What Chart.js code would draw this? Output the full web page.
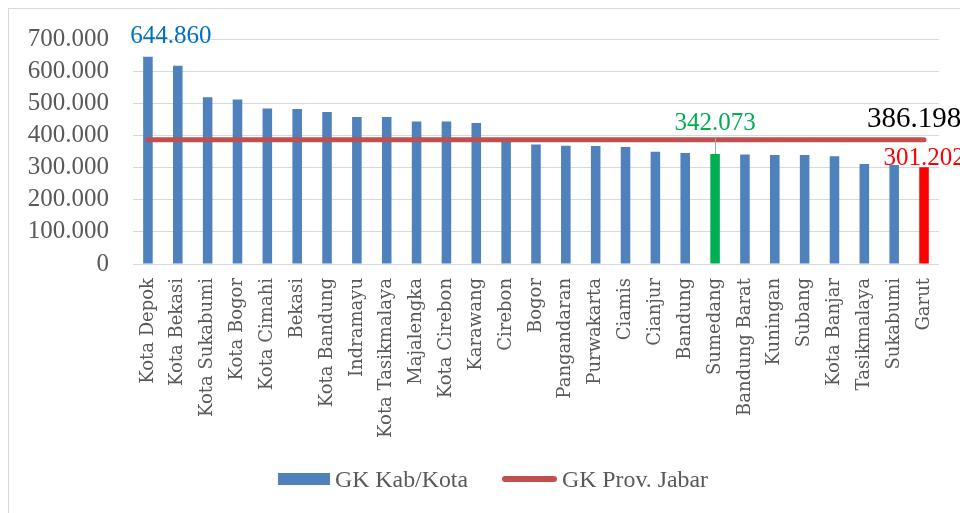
<!DOCTYPE html>
<html><head><meta charset="utf-8">
<script src="https://cdn.jsdelivr.net/npm/chart.js@4/dist/chart.umd.min.js"></script>
<style>
html,body{margin:0;padding:0;background:#fff;overflow:hidden}
#wrap{position:relative;width:960px;height:513px}
#frame{position:absolute;left:8px;top:8px;width:1000px;height:600px;border:1px solid #d9d9d9;box-sizing:border-box;pointer-events:none}
canvas{position:absolute;left:0;top:0}
</style></head><body>
<div id="wrap"><div id="frame"></div><canvas id="c" width="960" height="513"></canvas></div>
<script>
const categories = ['Kota Depok','Kota Bekasi','Kota Sukabumi','Kota Bogor','Kota Cimahi','Bekasi','Kota Bandung','Indramayu','Kota Tasikmalaya','Majalengka','Kota Cirebon','Karawang','Cirebon','Bogor','Pangandaran','Purwakarta','Ciamis','Cianjur','Bandung','Sumedang','Bandung Barat','Kuningan','Subang','Kota Banjar','Tasikmalaya','Sukabumi','Garut'];
const kabKotaValues = [644860,617000,519000,512000,484000,482000,473000,457000,457000,443000,443000,439000,384000,372000,368000,367000,364000,349000,345000,342073,341000,339000,339000,335000,311000,308000,301202];
const provValue = 386198;
const yTicks = [0,100000,200000,300000,400000,500000,600000,700000];
const seriesNames = ['GK Kab/Kota','GK Prov. Jabar'];
const labelTop = 'Kota Depok';
const labelGreen = 'Sumedang';
const labelRed = 'Garut';

const fmt = v => String(v).replace(/\B(?=(\d{3})+(?!\d))/g,'.');
const BLUE='#4F81BD', GREEN='#00B050', RED='#FF0000', LINE='#C0504D';
const barColors = categories.map(c => c===labelGreen ? GREEN : (c===labelRed ? RED : BLUE));
const NUMFONT = "'Liberation Serif', serif";

const labelsPlugin = {
  id:'valueLabels',
  afterDatasetsDraw(chart){
    const ctx = chart.ctx;
    const bars = chart.getDatasetMeta(0).data;
    const pts = chart.getDatasetMeta(1).data;
    ctx.save();
    ctx.textBaseline='alphabetic';
    let i = categories.indexOf(labelTop), b = bars[i];
    ctx.font = "25px "+NUMFONT; ctx.fillStyle='#0070C0'; ctx.textAlign='center';
    ctx.fillText(fmt(kabKotaValues[i]), b.x+23, b.y-14);
    i = categories.indexOf(labelGreen); b = bars[i];
    ctx.strokeStyle='#A6A6A6'; ctx.lineWidth=1;
    ctx.beginPath(); ctx.moveTo(Math.round(b.x)+0.5, b.y-16); ctx.lineTo(Math.round(b.x)+0.5, b.y); ctx.stroke();
    ctx.fillStyle=GREEN; ctx.textAlign='center';
    ctx.fillText(fmt(kabKotaValues[i]), b.x, b.y-24);
    i = categories.indexOf(labelRed); b = bars[i];
    ctx.fillStyle=RED; ctx.textAlign='center';
    ctx.fillText(fmt(kabKotaValues[i]), b.x, b.y-2);
    const p = pts[pts.length-1];
    ctx.font = "29px "+NUMFONT; ctx.fillStyle='#000'; ctx.textAlign='left';
    ctx.fillText(fmt(provValue), p.x-57, p.y-13);
    ctx.restore();
  }
};

function fitText(ctx, text, x, y, w){
  const sx = w / ctx.measureText(text).width;
  ctx.save(); ctx.translate(x, y); ctx.scale(sx, 1); ctx.fillText(text, 0, 0); ctx.restore();
}

const legendPlugin = {
  id:'customLegend',
  afterDraw(chart){
    const ctx = chart.ctx;
    const ds = chart.data.datasets;
    const cy = 479;
    ctx.save();
    ctx.font = "23px 'Liberation Serif', serif";
    ctx.textBaseline='alphabetic'; ctx.textAlign='left';
    ctx.fillStyle = BLUE; ctx.fillRect(278, 473, 52, 12);
    ctx.fillStyle = '#595959';
    fitText(ctx, ds[0].label, 335, 487, 133);
    ctx.strokeStyle = ds[1].borderColor; ctx.lineWidth = 6; ctx.lineCap='round';
    ctx.beginPath(); ctx.moveTo(505, cy); ctx.lineTo(554, cy); ctx.stroke();
    fitText(ctx, ds[1].label, 562, 487, 146);
    ctx.restore();
  }
};

new Chart(document.getElementById('c'), {
  type:'bar',
  data:{
    labels:categories,
    datasets:[
      {type:'bar', label:seriesNames[0], data:kabKotaValues, backgroundColor:barColors, barPercentage:0.32, categoryPercentage:1, order:2},
      {type:'line', label:seriesNames[1], data:categories.map(()=>provValue), borderColor:LINE, backgroundColor:LINE, borderWidth:5, borderCapStyle:'round', pointRadius:0, order:1}
    ]
  },
  plugins:[labelsPlugin, legendPlugin],
  options:{
    responsive:false, animation:false,
    layout:{padding:{left:0,right:20,top:38,bottom:49}},
    plugins:{legend:{display:false}, tooltip:{enabled:false}},
    scales:{
      x:{
        grid:{display:false, drawTicks:false},
        border:{color:'#D9D9D9'},
        ticks:{minRotation:90, maxRotation:90, autoSkip:false, padding:14, color:'#595959', font:{family:"'DejaVu Serif', serif", size:18}},
        afterFit(s){ s.height = 200; }
      },
      y:{
        min:0, max:700000,
        afterBuildTicks(s){ s.ticks = yTicks.map(v=>({value:v})); },
        ticks:{autoSkip:false, callback:v=>fmt(v), padding:24, color:'#595959', font:{family:NUMFONT, size:25}},
        grid:{color:'#D9D9D9', drawTicks:false},
        border:{display:false},
        afterFit(s){ s.width = 133; }
      }
    }
  }
});
</script>
</body></html>
